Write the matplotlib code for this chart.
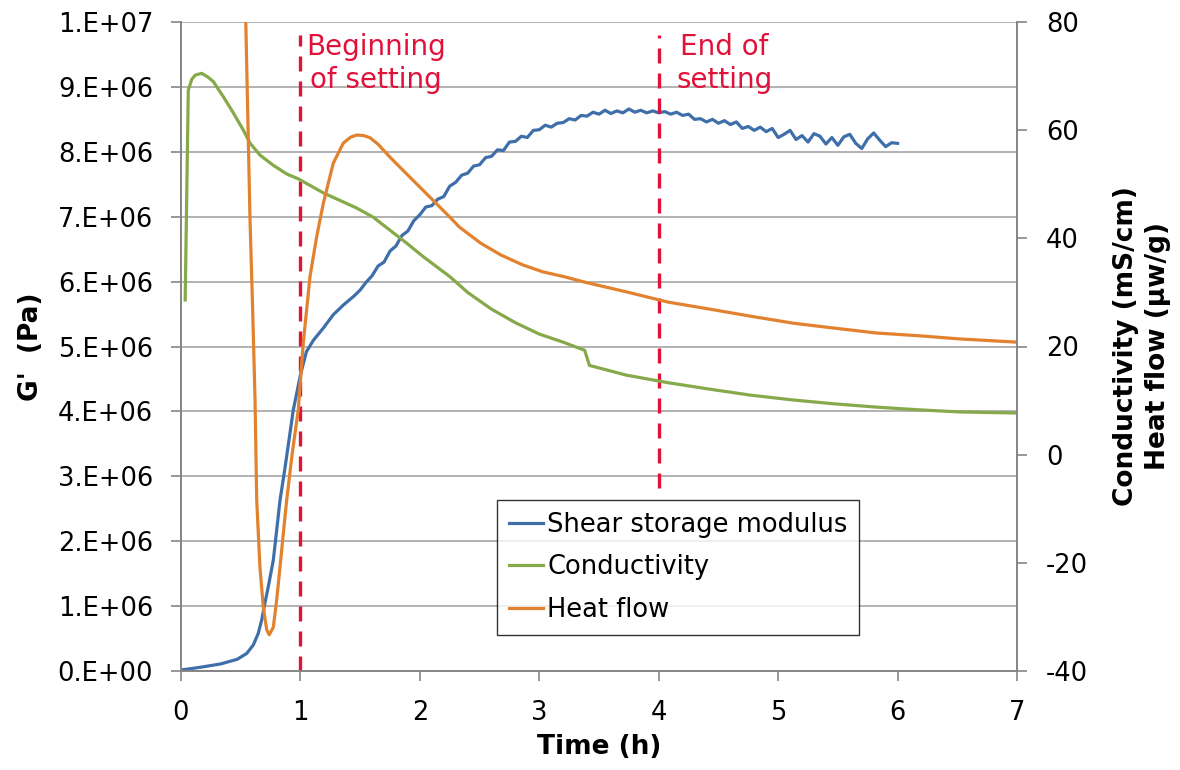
import numpy as np
import matplotlib
matplotlib.use("Agg")
import matplotlib.pyplot as plt
from matplotlib.ticker import FuncFormatter, MultipleLocator

# ---- data --------------------------------------------------------------
# shear storage modulus G' (x1e6 Pa), left axis
g_time = [0.0, 0.16, 0.33, 0.47, 0.55, 0.605, 0.647, 0.676, 0.703, 0.731, 0.773,
          0.80, 0.829, 0.87, 0.94, 1.0, 1.05, 1.11, 1.19, 1.275, 1.36, 1.45,
          1.50, 1.55, 1.60, 1.65, 1.70, 1.75, 1.80, 1.85, 1.90, 1.95,
          2.00, 2.05, 2.10, 2.15, 2.20, 2.25, 2.30, 2.35, 2.40, 2.45,
          2.50, 2.55, 2.60, 2.65, 2.70, 2.75, 2.80, 2.85, 2.90, 2.95,
          3.00, 3.05, 3.10, 3.15, 3.20, 3.25, 3.30, 3.35, 3.40, 3.45,
          3.50, 3.55, 3.60, 3.65, 3.70, 3.75, 3.80, 3.85, 3.90, 3.95,
          4.00, 4.05, 4.10, 4.15, 4.20, 4.25, 4.30, 4.35, 4.40, 4.45,
          4.50, 4.55, 4.60, 4.65, 4.70, 4.75, 4.80, 4.85, 4.90, 4.95,
          5.00, 5.05, 5.10, 5.15, 5.20, 5.25, 5.30, 5.35, 5.40, 5.45,
          5.50, 5.55, 5.60, 5.65, 5.70, 5.75, 5.80, 5.85, 5.90, 5.95, 6.00]
g_modulus = [0.015, 0.057, 0.108, 0.18, 0.27, 0.40, 0.58, 0.79, 1.05, 1.30, 1.71,
             2.15, 2.63, 3.12, 4.02, 4.56, 4.92, 5.10, 5.28, 5.49, 5.64, 5.78,
             5.87, 5.99, 6.09, 6.24, 6.30, 6.47, 6.55, 6.71, 6.78, 6.94,
             7.03, 7.15, 7.17, 7.27, 7.31, 7.47, 7.53, 7.64, 7.67, 7.78,
             7.80, 7.91, 7.93, 8.03, 8.02, 8.15, 8.16, 8.24, 8.22, 8.33,
             8.34, 8.41, 8.38, 8.44, 8.45, 8.51, 8.49, 8.56, 8.55, 8.61,
             8.58, 8.64, 8.59, 8.63, 8.60, 8.66, 8.61, 8.64, 8.60, 8.63,
             8.60, 8.62, 8.58, 8.61, 8.56, 8.58, 8.50, 8.51, 8.46, 8.50,
             8.44, 8.48, 8.42, 8.46, 8.36, 8.39, 8.33, 8.38, 8.31, 8.36,
             8.22, 8.27, 8.33, 8.19, 8.25, 8.15, 8.28, 8.24, 8.12, 8.22,
             8.10, 8.23, 8.27, 8.13, 8.05, 8.20, 8.29, 8.18, 8.08, 8.14, 8.13]

# conductivity (mS/cm), right axis
cond_time = [0.035, 0.061, 0.09, 0.12, 0.173, 0.22, 0.27, 0.354, 0.438, 0.522,
             0.578, 0.661, 0.773, 0.885, 0.982, 1.192, 1.471, 1.61, 1.75, 1.89,
             2.029, 2.252, 2.4, 2.6, 2.8, 3.0, 3.2, 3.38, 3.42, 3.73, 4.08,
             4.43, 4.77, 5.13, 5.47, 5.82, 6.17, 6.52, 7.0]
cond_value = [28.6, 67.4, 69.4, 70.2, 70.5, 69.9, 69.0, 66.2, 63.2, 60.0,
              57.6, 55.4, 53.5, 51.9, 51.0, 48.4, 45.6, 43.9, 41.5, 39.1,
              36.6, 32.9, 30.0, 26.9, 24.4, 22.3, 20.8, 19.3, 16.5, 14.7, 13.3,
              12.1, 11.0, 10.1, 9.4, 8.8, 8.3, 7.9, 7.7]

# heat flow (uW/g), right axis
heat_time = [0.52, 0.542, 0.578, 0.60, 0.62, 0.634, 0.661, 0.689, 0.718, 0.739,
             0.773, 0.801, 0.829, 0.857, 0.885, 0.93, 0.982, 1.024, 1.08, 1.136,
             1.192, 1.275, 1.359, 1.42, 1.471, 1.53, 1.583, 1.65, 1.75, 1.917,
             2.085, 2.252, 2.33, 2.51, 2.68, 2.86, 3.03, 3.21, 3.38, 3.73, 4.08,
             4.43, 4.77, 5.13, 5.47, 5.82, 6.17, 6.52, 7.0]
heat_value = [95.0, 80.4, 43.4, 26.8, 10.1, -8.4, -20.8, -28.2, -32.4, -33.3,
              -31.9, -26.9, -20.8, -14.5, -8.4, 0.0, 8.3, 20.7, 32.9, 40.3,
              46.5, 53.9, 57.6, 58.7, 59.1, 59.0, 58.6, 57.4, 55.0, 51.3,
              47.6, 43.9, 42.1, 39.1, 36.9, 35.1, 33.8, 32.9, 31.9, 30.1, 28.2,
              26.9, 25.6, 24.3, 23.4, 22.5, 22.0, 21.4, 20.8]

# setting markers (h) and dashed-line extent in G' units
setting_time = [1, 4]
setting_top = [9.8e6, 9.8e6]
setting_bottom = [0.0, 2.82e6]
setting_text = ["Beginning\nof setting", "End of\nsetting"]
setting_text_x = [1.635, 4.55]
setting_text_y = 9.36e6

BLUE = "#3F6FAA"
GREEN = "#86A94A"
ORANGE = "#E2822F"
RED = "#E0123A"
GRID = "#A6A6A6"
SPINE = "#868686"

plt.rcParams["font.family"] = ["DejaVu Sans"]
plt.rcParams["axes.unicode_minus"] = False


def sci_label(v, _):
    if v <= 0:
        return "0.E+00"
    exp = int(np.floor(np.log10(v) + 1e-9))
    return f"{v / 10**exp:.0f}.E+{exp:02d}"


fig = plt.figure(figsize=(11.8, 7.7), dpi=100)
ax = fig.add_axes([181 / 1180, 99 / 770, 836 / 1180, 649 / 770])
ax2 = ax.twinx()

# G' on the primary axis
l_g, = ax.plot(g_time, np.array(g_modulus) * 1e6, color=BLUE, lw=2.3,
               label="Shear storage modulus", solid_joinstyle="round")

# conductivity and heat flow on the secondary axis
l_c, = ax2.plot(cond_time, cond_value, color=GREEN, lw=2.3,
                label="Conductivity", solid_joinstyle="round")
l_h, = ax2.plot(heat_time, heat_value, color=ORANGE, lw=2.3,
                label="Heat flow", solid_joinstyle="round")

# setting markers
ax.vlines(setting_time, setting_bottom, setting_top, colors=RED, lw=2.4,
          linestyles=(0, (4.5, 3)), zorder=5)
for xt, txt in zip(setting_text_x, setting_text):
    ax.text(xt, setting_text_y, txt, color=RED, fontsize=20, ha="center",
            va="center", linespacing=1.22, zorder=6)

ax.set_xlim(0, 7)
ax.set_ylim(0, 1e7)
ax2.set_ylim(-40, 80)

ax.xaxis.set_major_locator(MultipleLocator(1))
ax.yaxis.set_major_locator(MultipleLocator(1e6))
ax.yaxis.set_major_formatter(FuncFormatter(sci_label))
ax2.yaxis.set_major_locator(MultipleLocator(20))

ax.grid(axis="y", color=GRID, lw=1.2)
ax.set_axisbelow(True)

for a in (ax, ax2):
    a.spines["top"].set_visible(False)
    for s in ("left", "right", "bottom"):
        a.spines[s].set_color(SPINE)
        a.spines[s].set_linewidth(1.3)
    a.tick_params(colors=SPINE, labelcolor="black", length=7, width=1.2,
                  labelsize=18.5, direction="out")
ax.tick_params(axis="y", pad=13)
ax.tick_params(axis="x", pad=14)
ax2.tick_params(axis="y", pad=14)

ax.set_xlabel("Time (h)", fontsize=19, fontweight="bold", labelpad=6)
ax.set_ylabel("G'  (Pa)", fontsize=19, fontweight="bold", labelpad=10)
ax2.set_ylabel("Conductivity (mS/cm)\nHeat flow (μw/g)", fontsize=19,
               fontweight="bold", labelpad=18, linespacing=1.3)

leg = ax2.legend(handles=[l_g, l_c, l_h], loc="upper left",
                 bbox_to_anchor=(0.378, 0.2635), fontsize=18.5,
                 frameon=True, fancybox=False, handlelength=1.35,
                 handletextpad=0.15, borderpad=0.45, labelspacing=0.65,
                 borderaxespad=0)
leg.get_frame().set_edgecolor("black")
leg.get_frame().set_linewidth(1.0)

fig.savefig("out.png", dpi=100)
